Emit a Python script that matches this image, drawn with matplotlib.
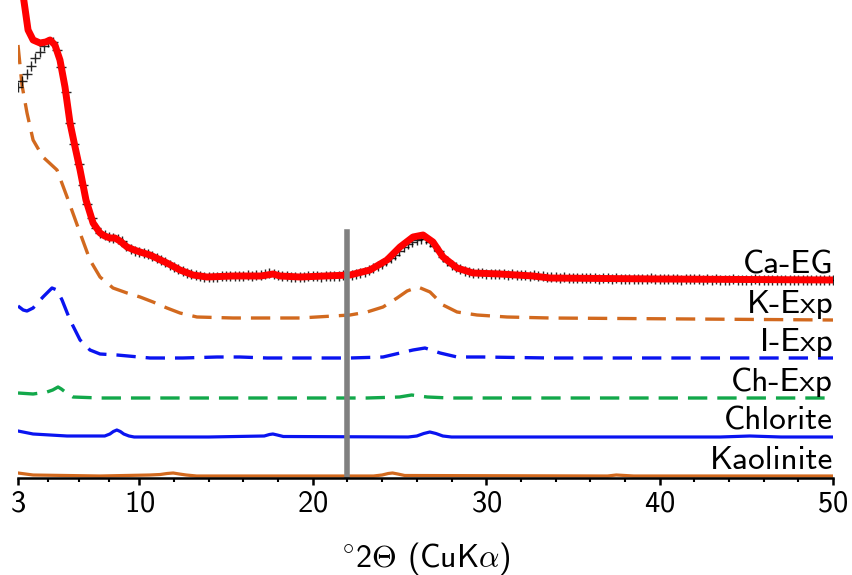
import matplotlib
matplotlib.use("Agg")
import numpy as np
import matplotlib.pyplot as plt

plt.rcParams["font.family"] = ["cmss10", "DejaVu Sans"]
plt.rcParams["axes.formatter.use_mathtext"] = True
plt.rcParams["mathtext.fontset"] = "cm"


# ================= DATA =================
# measured pattern, Ca-saturated + ethylene glycol, 3-50 deg in 0.25 deg steps
obs_2theta = np.linspace(3.0, 50.0, 189)
obs_counts = [
    193, 199, 206, 214,   # 3
    222, 228, 234, 238,   # 4
    238, 230, 213, 188,   # 5
    157, 136, 116, 95,    # 6
    76, 62, 52, 47,       # 7
    45, 43, 42, 41,       # 8
    39, 34, 31, 29,       # 9
    28, 27, 26, 24,       # 10
    22, 20, 18, 15,       # 11
    13, 11, 9, 7,         # 12
    6, 5, 4, 3,           # 13
    3, 3, 3, 4,           # 14
    4, 4, 4, 4,           # 15
    4, 5, 4, 5,           # 16
    5, 6, 7, 6,           # 17
    5, 4, 4, 3,           # 18
    3, 3, 3, 4,           # 19
    4, 4, 3, 4,           # 20
    4, 4, 4, 5,           # 21
    5, 5, 6, 7,           # 22
    8, 10, 12, 14,        # 23
    16, 19, 22, 25,       # 24
    29, 33, 36, 38,       # 25
    40, 41, 41, 38,       # 26
    34, 29, 23, 19,       # 27
    15, 13, 11, 9,        # 28
    8, 7, 7, 7,           # 29
    6, 6, 6, 6,           # 30
    6, 5, 6, 5,           # 31
    5, 5, 4, 5,           # 32
    4, 4, 3, 3,           # 33
    3, 2, 3, 2,           # 34
    2, 2, 2, 2,           # 35
    2, 2, 1, 2,           # 36
    2, 1, 2, 1,           # 37
    1, 1, 1, 1,           # 38
    1, 1, 2, 1,           # 39
    1, 1, 1, 1,           # 40
    1, 0, 1, 1,           # 41
    1, 1, 0, 1,           # 42
    0, 1, 0, 0,           # 43
    0, 1, 0, 0,           # 44
    0, 0, 1, 0,           # 45
    0, 0, 0, 0,           # 46
    0, 0, 0, 0,           # 47
    0, 0, 0, 0,           # 48
    0, 0, 0, 0,           # 49
    0,                    # 50
]

# calculated patterns
ca_eg_x = [3.0, 3.40, 3.58, 3.87, 4.27, 4.6, 4.85, 5.13, 5.42, 5.71,
           6.00, 6.29, 6.58, 6.92, 7.33, 7.73, 8.0, 8.31, 8.59, 8.88,
           9.29, 9.7, 10.04, 10.61, 11.59, 12.34, 13.09, 13.90, 15.40, 17.0,
           17.36, 17.71, 18.11, 19.26, 22.15, 23.30, 24.28, 25.03, 25.78, 26.36,
           26.93, 27.51, 28.32, 29.24, 30.80, 32.70, 33.68, 40.0, 50.0]
ca_eg_y = [320, 272, 250, 240, 237, 238, 240, 235, 220, 193,
           157, 133, 110, 80, 57, 47, 44, 42, 42, 39,
           33, 30, 28, 25, 17, 10, 5, 3, 4, 4,
           5, 6, 4, 3, 5, 10, 20, 33, 43, 45,
           38, 23, 12, 7, 6, 4, 2, 1, 0]

k_exp_x = [3.0, 3.23, 3.52, 3.87, 4.44, 5.25, 5.83, 6.58, 7.15, 7.73,
           8.48, 9.29, 10.04, 10.79, 11.59, 12.34, 13.32, 15.4, 19.26, 22.15,
           23.13, 24.05, 24.86, 25.44, 26.07, 26.76, 27.51, 28.32, 29.47, 31.2,
           33.68, 50.0]
k_exp_y = [275, 235, 207, 180, 163, 150, 123, 87, 60, 43,
           32, 27, 23, 18, 12, 7, 3, 2, 2, 5,
           8, 13, 22, 29, 33, 28, 15, 8, 5, 3,
           2, 0]

i_exp_x = [3.0, 3.3, 3.52, 3.87, 4.44, 4.96, 5.25, 5.54, 6.0, 6.58,
           7.15, 7.73, 8.71, 10.61, 12.5, 14.48, 15.8, 17.36, 22.15, 24.05,
           25.03, 25.78, 26.47, 27.34, 28.32, 29.82, 33.68, 50.0]
i_exp_y = [52, 48, 47, 50, 61, 70, 68, 58, 38, 18,
           8, 4, 3, 0, 0, 1, 1, 0, 0, 1,
           5, 8, 10, 5, 1, 1, 0, 0]

ch_exp_x = [3.0, 3.87, 4.67, 5.0, 5.31, 5.5, 5.8, 6.17, 7.73, 23.13,
            25.0, 25.7, 26.6, 27.9, 50.0]
ch_exp_y = [5, 4, 6, 8, 11, 9, 5, 1, 0, 0,
            1, 3, 1, 0, 0]

chlorite_x = [3.0, 3.87, 5.83, 7.73, 8.0, 8.3, 8.5, 8.7, 8.9, 9.1,
              9.4, 9.7, 14.0, 17.2, 17.5, 17.7, 17.95, 18.3, 25.5, 26.0,
              26.4, 26.75, 27.1, 27.5, 28.0, 43.5, 45.2, 47.0, 50.0]
chlorite_y = [6, 3, 1, 1, 1, 3, 5.5, 7, 5.5, 3,
              1, 0, 0, 1, 2.5, 3, 2, 0.5, 0, 1,
              3.5, 5, 3.5, 1, 0, 0, 1, 0, 0]

kaolinite_x = [3.0, 3.87, 7.73, 10.61, 11.2, 11.6, 11.95, 12.3, 12.7, 13.3,
               23.5, 24.0, 24.35, 24.6, 24.9, 25.3, 37.0, 37.5, 38.5, 50.0]
kaolinite_y = [3, 1, 0, 1, 1.5, 2.5, 3, 2, 1, 0,
               0, 1, 2.5, 3, 2, 0.5, 0, 1, 0, 0]

labels = ["Ca-EG", "K-Exp", "I-Exp", "Ch-Exp", "Chlorite", "Kaolinite"]
offsets = [198, 158, 120, 80, 41, 2]

major_ticks = [3, 10, 20, 30, 40, 50]
minor_ticks = [4.75, 6.5, 8.25] + list(range(12, 50, 2))
marker_2theta = 22.0


# ================= PLOT =================
fig = plt.figure(figsize=(8.53, 5.75), dpi=100)
ax = fig.add_axes([18 / 853, 97 / 575, 815 / 853, 478 / 575])

orange = "#d2691e"
blue = "#0a14f0"
dash = (5.8, 3.0)

ax.plot(kaolinite_x, np.array(kaolinite_y) + offsets[5], color=orange, lw=2.3)
ax.plot(chlorite_x, np.array(chlorite_y) + offsets[4], color=blue, lw=2.3)
ax.plot(ch_exp_x, np.array(ch_exp_y) + offsets[3], color="#12a84a", lw=2.4,
        dashes=dash)
ax.plot(i_exp_x, np.array(i_exp_y) + offsets[2], color=blue, lw=2.4,
        dashes=dash)
ax.plot(k_exp_x, np.array(k_exp_y) + offsets[1], color=orange, lw=2.4,
        dashes=dash)

# observed counts as crosses under the fitted curve
ax.plot(obs_2theta, np.array(obs_counts) + offsets[0], ls="none",
        color="black", marker="+", ms=7, mew=1.0, alpha=0.85)
ax.plot(ca_eg_x, np.array(ca_eg_y) + offsets[0], color="#ff0000", lw=5,
        solid_capstyle="round")

ax.axvline(marker_2theta, ymin=0, ymax=(478 - 232) / 478, color="#808080",
           lw=4)

for name, off in zip(labels, offsets):
    ax.text(50, off + 7, name, ha="right", va="baseline", fontsize=24)

ax.set_xlim(3, 50)
ax.set_ylim(0, 478)
ax.set_xticks(major_ticks)
ax.set_xticks(minor_ticks, minor=True)
ax.set_yticks([])
for side in ["left", "right", "top"]:
    ax.spines[side].set_visible(False)
ax.spines["bottom"].set_linewidth(1.8)
ax.tick_params(axis="x", which="major", length=5, width=1.8, labelsize=22,
               pad=4)
ax.tick_params(axis="x", which="minor", length=3, width=1.5)
ax.set_xlabel(r"$^{\circ}$2$\Theta$ (CuK$\alpha$)", fontsize=23, labelpad=16)
ax.patch.set_alpha(0)

fig.savefig("out.png", dpi=100)
